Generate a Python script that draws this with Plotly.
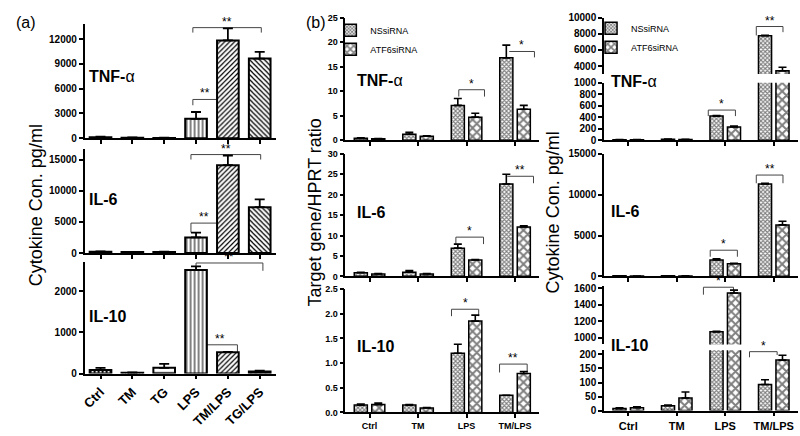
import plotly.graph_objects as go

W, H = 800, 436
FONT = "Liberation Sans"

# (a) cytokine secretion, pg/ml
cats_a = ["Ctrl", "TM", "TG", "LPS", "TM/LPS", "TG/LPS"]
tnf_a = [110, 60, 40, 2350, 11850, 9650]
tnf_a_err = [90, 30, 20, 830, 1450, 820]
il6_a = [200, 150, 170, 2500, 14100, 7350]
il6_a_err = [60, 40, 40, 780, 1550, 1250]
il10_a = [90, 20, 140, 2520, 520, 50]
il10_a_err = [50, 10, 95, 90, 5, 20]

# (b) left: mRNA, target gene / HPRT ratio
cats_b = ["Ctrl", "TM", "LPS", "TM/LPS"]
tnf_mrna_ns = [0.4, 1.2, 7.1, 16.8]
tnf_mrna_ns_err = [0.1, 0.4, 1.4, 2.6]
tnf_mrna_atf6 = [0.3, 0.8, 4.7, 6.3]
tnf_mrna_atf6_err = [0.05, 0.1, 0.8, 0.8]
il6_mrna_ns = [0.9, 1.0, 6.9, 22.6]
il6_mrna_ns_err = [0.1, 0.4, 1.0, 2.4]
il6_mrna_atf6 = [0.6, 0.6, 4.0, 12.1]
il6_mrna_atf6_err = [0.1, 0.1, 0.1, 0.3]
il10_mrna_ns = [0.15, 0.15, 1.2, 0.35]
il10_mrna_ns_err = [0.02, 0.01, 0.18, 0.0]
il10_mrna_atf6 = [0.16, 0.09, 1.85, 0.79]
il10_mrna_atf6_err = [0.03, 0.01, 0.12, 0.04]

# (b) right: protein, pg/ml
tnf_pg_ns = [10, 15, 420, 7750]
tnf_pg_ns_err = [2, 3, 10, 60]
tnf_pg_atf6 = [8, 12, 230, 3400]
tnf_pg_atf6_err = [2, 2, 15, 450]
il6_pg_ns = [60, 60, 2000, 11300]
il6_pg_ns_err = [10, 10, 150, 100]
il6_pg_atf6 = [30, 50, 1550, 6300]
il6_pg_atf6_err = [10, 10, 60, 450]
il10_pg_ns = [7, 17, 1070, 93]
il10_pg_ns_err = [3, 3, 8, 17]
il10_pg_atf6 = [10, 45, 1540, 180]
il10_pg_atf6_err = [3, 21, 35, 17]

# significance brackets: (x0, x1, y, y_end0, y_end1, label), x in category index
br_a_tnf = [(2.9, 5.05, 13400, 12800, 12800, "**"), (2.9, 3.66, 4700, 4000, 4700, "**")]
br_a_il6 = [(2.84, 5.03, 15800, 15000, 15000, "**"), (2.84, 3.65, 4800, 3300, 4800, "**")]
br_a_il10 = [(3.0, 5.1, 2690, 2500, 2500, "**"), (3.2, 4.3, 700, 500, 520, "**")]
br_m_tnf = [(1.84, 2.37, 10.3, 8.9, 8.9, "*"), (2.88, 3.40, 18.1, 18.1, 16.9, "*")]
br_m_il6 = [(1.78, 2.35, 9.6, 7.9, 7.9, "*"), (2.84, 3.38, 24.5, 24.5, 22.8, "**")]
br_m_il10 = [(1.69, 2.25, 2.09, 1.95, 1.95, "*"), (2.68, 3.25, 0.98, 0.81, 0.81, "**")]
br_r_tnf_lo = [(1.65, 2.21, 525, 420, 420, "*")]
br_r_tnf_hi = [(2.64, 3.19, 8900, 7800, 8200, "**")]
br_r_il6 = [(1.69, 2.25, 3200, 2400, 2400, "*"), (2.64, 3.19, 12400, 11400, 11400, "**")]
br_r_il10_hi = [(1.55, 2.17, 1610, 1520, 1565, "*")]
br_r_il10_lo = [(2.5, 3.07, 210, 190, 198, "*")]


def xdom(l, r):
    return [l / W, r / W]


def ydom(t, b):
    return [1 - b / H, 1 - t / H]


def px(x, y):
    return x / W, 1 - y / H


fig = go.Figure()
layout = dict(shapes=[], annotations=[])

# subplot definitions: id, x domain (px), y domain (px), y range, tickvals, cats, show x axis, x labels
subs = [
    (1, (81, 273), (18, 136), [0, 13900], [0, 3000, 6000, 9000, 12000], cats_a, True, False),
    (2, (81, 273), (147, 254), [0, 16700], [0, 5000, 10000, 15000], cats_a, True, False),
    (3, (81, 273), (263, 378), [0, 2720], [0, 1000, 2000], cats_a, True, True),
    (4, (343, 538), (12, 138), [0, 25], [0, 5, 10, 15, 20, 25], cats_b, True, False),
    (5, (343, 538), (152, 278), [0, 30], [0, 5, 10, 15, 20, 25, 30], cats_b, True, False),
    (6, (343, 538), (291, 418), [0, 2.5], [0, 0.5, 1, 1.5, 2, 2.5], cats_b, True, True),
    (7, (603, 798), (12, 70), [3000, 10000], [4000, 6000, 8000, 10000], cats_b, False, False),
    (8, (603, 798), (79, 138), [0, 1000], [0, 200, 400, 600, 800, 1000], cats_b, True, False),
    (9, (603, 798), (152, 278), [0, 15000], [0, 5000, 10000, 15000], cats_b, True, False),
    (10, (603, 798), (288, 348), [918, 1624], [1000, 1200, 1400, 1600], cats_b, False, False),
    (11, (603, 798), (354, 416), [0, 215], [0, 50, 100, 150, 200], cats_b, True, True),
]

for i, xd_, yd_, yr, tv, cats, showx, xlab in subs:
    sfx = "" if i == 1 else str(i)
    big = i <= 3 or i >= 7
    tickfmt = ".1f" if i == 6 else "d"
    layout["xaxis" + sfx] = dict(
        domain=xdom(*xd_), anchor="y" + sfx, type="category",
        range=[-0.5, len(cats) - 0.5], categoryorder="array", categoryarray=cats,
        showline=showx, linecolor="black", linewidth=1.5,
        ticks="outside" if showx else "", ticklen=4, tickwidth=1.5, tickcolor="black",
        showticklabels=xlab, showgrid=False, zeroline=False,
        tickangle=-45 if i == 3 else 0,
        tickfont=dict(family=FONT, size=13 if i == 3 else (11 if i == 11 else 9),
                      weight="bold", color="black"),
    )
    layout["yaxis" + sfx] = dict(
        domain=ydom(*yd_), anchor="x" + sfx, range=yr, tickvals=tv, tickformat=tickfmt,
        showline=True, linecolor="black", linewidth=1.5,
        ticks="outside", ticklen=4, tickwidth=1.5, tickcolor="black",
        showgrid=False, zeroline=False,
        tickfont=dict(family=FONT, size=10 if big else 9, weight="bold", color="black"),
    )

# (a) bars
pat_a = [".", "x", "-", "|", "/", "\\"]
pat_a_size = [4, 4, 6, 4, 3.5, 3.5]
pat_a_sol = [0.3, 0.4, 0.15, 0.25, 0.35, 0.35]
for i, vals, err in [(1, tnf_a, tnf_a_err), (2, il6_a, il6_a_err), (3, il10_a, il10_a_err)]:
    sfx = "" if i == 1 else str(i)
    fig.add_trace(go.Bar(
        x=cats_a, y=vals, width=0.68, xaxis="x" + sfx, yaxis="y" + sfx, showlegend=False,
        error_y=dict(type="data", array=err, arrayminus=[0] * len(err), color="black",
                     thickness=1.8, width=5),
        marker=dict(color="white", line=dict(color="black", width=2),
                    pattern=dict(shape=pat_a, size=pat_a_size, solidity=pat_a_sol,
                                 fgcolor="black", bgcolor="white", fillmode="replace")),
    ))

# (b) bars
ns_pat = dict(shape="x", size=3, solidity=0.6, fgcolor="black", bgcolor="white")
atf_pat = dict(shape="x", size=6, solidity=0.55, fgcolor="black", bgcolor="white")
groups = [
    (4, tnf_mrna_ns, tnf_mrna_ns_err, tnf_mrna_atf6, tnf_mrna_atf6_err, "legend"),
    (5, il6_mrna_ns, il6_mrna_ns_err, il6_mrna_atf6, il6_mrna_atf6_err, None),
    (6, il10_mrna_ns, il10_mrna_ns_err, il10_mrna_atf6, il10_mrna_atf6_err, None),
    (7, tnf_pg_ns, tnf_pg_ns_err, tnf_pg_atf6, tnf_pg_atf6_err, "legend2"),
    (8, tnf_pg_ns, tnf_pg_ns_err, tnf_pg_atf6, tnf_pg_atf6_err, None),
    (9, il6_pg_ns, il6_pg_ns_err, il6_pg_atf6, il6_pg_atf6_err, None),
    (10, il10_pg_ns, il10_pg_ns_err, il10_pg_atf6, il10_pg_atf6_err, None),
    (11, il10_pg_ns, il10_pg_ns_err, il10_pg_atf6, il10_pg_atf6_err, None),
]
for i, ns, ns_e, atf, atf_e, leg in groups:
    sfx = str(i)
    for name, vals, err, pat in [("NSsiRNA", ns, ns_e, ns_pat), ("ATF6siRNA", atf, atf_e, atf_pat)]:
        fig.add_trace(go.Bar(
            x=cats_b, y=vals, name=name, xaxis="x" + sfx, yaxis="y" + sfx,
            showlegend=leg is not None, legend=leg or "legend",
            error_y=dict(type="data", array=err, arrayminus=[0] * len(err), color="black",
                         thickness=1.6, width=4),
            marker=dict(color="white", line=dict(color="black", width=1.5), pattern=pat),
        ))

# brackets
for i, brs in [(1, br_a_tnf), (2, br_a_il6), (3, br_a_il10), (4, br_m_tnf), (5, br_m_il6),
               (6, br_m_il10), (8, br_r_tnf_lo), (7, br_r_tnf_hi), (9, br_r_il6),
               (10, br_r_il10_hi), (11, br_r_il10_lo)]:
    sfx = "" if i == 1 else str(i)
    for x0, x1, y, e0, e1, lab in brs:
        for seg in [(x0, e0, x0, y), (x0, y, x1, y), (x1, y, x1, e1)]:
            layout["shapes"].append(dict(
                type="line", xref="x" + sfx, yref="y" + sfx, layer="below",
                x0=seg[0], y0=seg[1], x1=seg[2], y1=seg[3],
                line=dict(color="#444", width=1)))
        layout["annotations"].append(dict(
            xref="x" + sfx, yref="y" + sfx, x=(x0 + x1) / 2, y=y, text=lab,
            showarrow=False, yanchor="bottom", yshift=-3,
            font=dict(family=FONT, size=12, color="black")))

# panel texts
def label(x, y, text, size, angle=0, anchor="center"):
    px_, py_ = px(x, y)
    layout["annotations"].append(dict(
        xref="paper", yref="paper", x=px_, y=py_, text=text, showarrow=False,
        xanchor=anchor, yanchor="middle", textangle=angle,
        font=dict(family=FONT, size=size, color="black")))

label(10, 17, "(a)", 16, anchor="left")
label(302, 17, "(b)", 16, anchor="left")
label(33, 205, "Cytokine Con. pg/ml", 18, angle=-90)
label(313, 212, "Target gene/HPRT ratio", 18, angle=-90)
label(552, 212, "Cytokine Con. pg/ml", 18, angle=-90)
for x, ys in [(83, (72, 199, 319)), (353, (77, 212, 350)), (608, (78, 211, 349))]:
    for y, t in zip(ys, ["<b>TNF-</b>α", "<b>IL-6</b>", "<b>IL-10</b>"]):
        label(x, y, t, 16, anchor="left")

leg_style = dict(font=dict(family=FONT, size=9, color="black"), bgcolor="rgba(0,0,0,0)",
                 yanchor="top", xanchor="left", tracegroupgap=0, itemwidth=30)
lx, ly = px(328, 10)
layout["legend"] = dict(x=lx, y=ly, **leg_style)
lx2, ly2 = px(590, 8)
layout["legend2"] = dict(x=lx2, y=ly2, **leg_style)

fig.update_layout(
    **layout,
    width=W, height=H, autosize=False,
    margin=dict(l=0, r=0, t=0, b=0),
    paper_bgcolor="white", plot_bgcolor="white",
    barmode="group", bargap=0.28, bargroupgap=0.25,
    font=dict(family=FONT, color="black"),
)

# page body has a default margin; drop it so the figure fills the window
fig.write_html("out.html", config={"displayModeBar": False},
               post_script="document.body.style.margin='0';document.body.style.overflow='hidden';")
